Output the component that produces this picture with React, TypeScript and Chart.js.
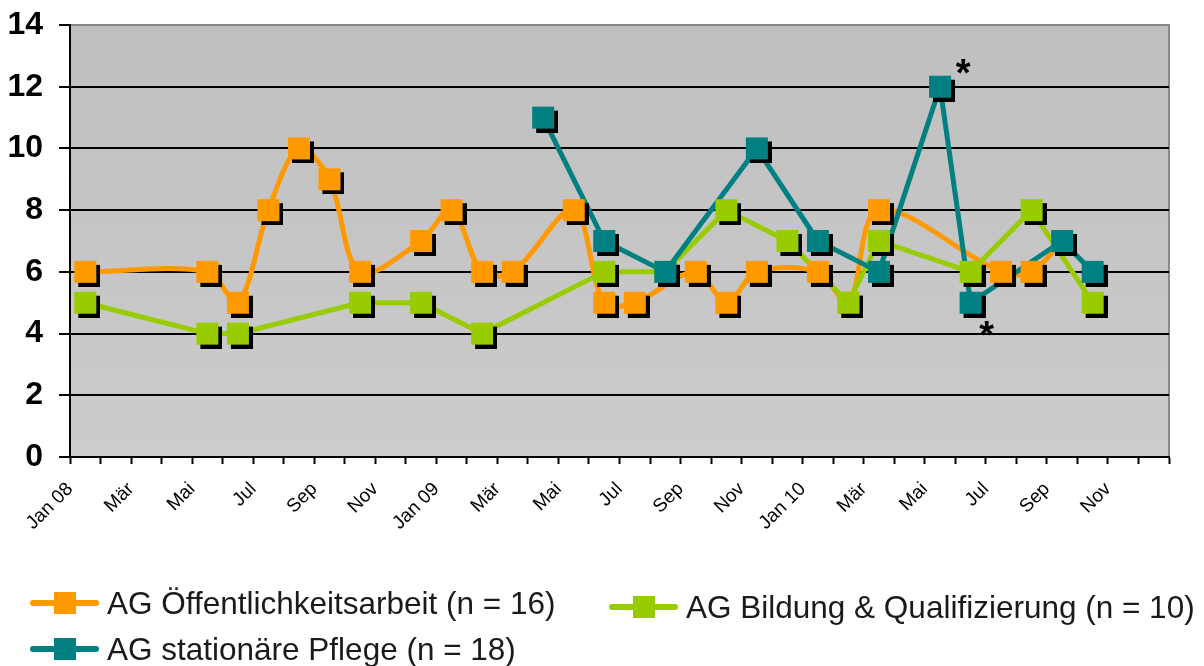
import React, { useEffect, useRef } from "react";
import { Chart, registerables } from "chart.js";

Chart.register(...registerables);

// Tick labels (every second month, starting Jan 2008)
const tickLabels = [
  "Jan 08", "Mär", "Mai", "Jul", "Sep", "Nov",
  "Jan 09", "Mär", "Mai", "Jul", "Sep", "Nov",
  "Jan 10", "Mär", "Mai", "Jul", "Sep", "Nov",
];

// Series: month index (0 = Jan 08) and value
const seriesNames = [
  "AG Öffentlichkeitsarbeit (n = 16)",
  "AG Bildung & Qualifizierung (n = 10)",
  "AG stationäre Pflege (n = 18)",
];

const oeffMonths = [0, 4, 5, 6, 7, 8, 9, 11, 12, 13, 14, 16, 17, 18, 20, 21, 22, 24, 25, 26, 30, 31, 32];
const oeffValues = [6, 6, 5, 8, 10, 9, 6, 7, 8, 6, 6, 8, 5, 5, 6, 5, 6, 6, 5, 8, 6, 6, 7];

const bildMonths = [0, 4, 5, 9, 11, 13, 17, 19, 21, 23, 25, 26, 29, 31, 33];
const bildValues = [5, 4, 4, 5, 5, 4, 6, 6, 8, 7, 5, 7, 6, 8, 5];

const pflegeMonths = [15, 17, 19, 22, 24, 26, 28, 29, 32, 33];
const pflegeValues = [11, 7, 6, 10, 7, 6, 12, 5, 7, 6];

// Asterisk annotations: attached to (month, value) of the "stationäre Pflege" series
const starMonths = [28, 29];
const starValues = [12, 5];

const colors = ["#FF9900", "#99CC00", "#008080"];
const FONT = "'Liberation Sans', Arial, Helvetica, sans-serif";

function makeMarker(color: string): HTMLCanvasElement {
  const size = 22;
  const off = 4;
  const c = document.createElement("canvas");
  c.width = size + 2 * off;
  c.height = size + 2 * off;
  const ctx = c.getContext("2d")!;
  ctx.fillStyle = "#000";
  ctx.fillRect(off * 2, off * 2, size, size);
  ctx.fillStyle = color;
  ctx.fillRect(off, off, size, size);
  return c;
}

function toPoints(months: number[], values: number[]) {
  return months.map((m, i) => ({ x: m + 0.5, y: values[i] }));
}

export default function App() {
  const ref = useRef<HTMLCanvasElement>(null);

  useEffect(() => {
    if (!ref.current) return;
    const markers = colors.map(makeMarker);
    const pts = [
      toPoints(oeffMonths, oeffValues),
      toPoints(bildMonths, bildValues),
      toPoints(pflegeMonths, pflegeValues),
    ];
    const tensions = [0.33, 0, 0];

    const lineSets = pts.map((d, i) => ({
      label: seriesNames[i] + " line",
      data: d,
      borderColor: colors[i],
      backgroundColor: colors[i],
      borderWidth: 5,
      tension: tensions[i],
      pointRadius: 0,
      borderJoinStyle: "round" as const,
      borderCapStyle: "round" as const,
      order: 20 - i,
    }));
    const pointSets = pts.map((d, i) => ({
      label: seriesNames[i],
      data: d,
      showLine: false,
      pointStyle: markers[i],
      pointRadius: 11,
      borderColor: colors[i],
      backgroundColor: colors[i],
      order: 5 - i,
    }));

    const bgPlugin = {
      id: "plotBg",
      beforeDraw(chart: any) {
        const { ctx, chartArea: a } = chart;
        ctx.save();
        const g = ctx.createLinearGradient(0, a.top, 0, a.bottom);
        g.addColorStop(0, "#BFBFBF");
        g.addColorStop(1, "#CCCCCC");
        ctx.fillStyle = g;
        ctx.fillRect(a.left, a.top, a.right - a.left, a.bottom - a.top);
        ctx.strokeStyle = "#8a8a8a";
        ctx.lineWidth = 2;
        ctx.beginPath();
        ctx.moveTo(a.left, a.top);
        ctx.lineTo(a.right, a.top);
        ctx.lineTo(a.right, a.bottom);
        ctx.stroke();
        ctx.restore();
      },
    };

    const starPlugin = {
      id: "stars",
      afterDatasetsDraw(chart: any) {
        const { ctx, scales } = chart;
        const offs = [
          [23, -1],
          [16, 45],
        ];
        ctx.save();
        ctx.font = `bold 38px ${FONT}`;
        ctx.fillStyle = "#000";
        ctx.textAlign = "center";
        ctx.textBaseline = "alphabetic";
        starMonths.forEach((m, i) => {
          const x = scales.x.getPixelForValue(m + 0.5) + offs[i][0];
          const y = scales.y.getPixelForValue(starValues[i]) + offs[i][1];
          ctx.fillText("*", x, y);
        });
        ctx.restore();
      },
    };

    const legendPlugin = {
      id: "customLegend",
      afterDraw(chart: any) {
        const { ctx } = chart;
        const items = [
          { i: 0, x: 33, y: 603 },
          { i: 1, x: 612, y: 607 },
          { i: 2, x: 33, y: 649 },
        ];
        ctx.save();
        items.forEach(({ i, x, y }) => {
          ctx.strokeStyle = colors[i];
          ctx.lineWidth = 6;
          ctx.lineCap = "round";
          ctx.beginPath();
          ctx.moveTo(x, y);
          ctx.lineTo(x + 63, y);
          ctx.stroke();
          ctx.fillStyle = colors[i];
          ctx.fillRect(x + 21, y - 11, 22, 22);
          ctx.fillStyle = "#1a1a1a";
          ctx.font = `31.5px ${FONT}`;
          ctx.textAlign = "left";
          ctx.textBaseline = "middle";
          ctx.fillText(seriesNames[i], x + 74, y + 2);
        });
        ctx.restore();
      },
    };

    const chart = new Chart(ref.current, {
      type: "line",
      data: { datasets: [...lineSets, ...pointSets] as any },
      plugins: [bgPlugin, starPlugin, legendPlugin],
      options: {
        animation: false,
        responsive: false,
        layout: { padding: { top: 25, right: 35, left: 0, bottom: 0 } },
        plugins: { legend: { display: false }, tooltip: { enabled: false } },
        scales: {
          x: {
            type: "linear",
            min: 0,
            max: 36,
            ticks: {
              stepSize: 1,
              maxTicksLimit: 100,
              autoSkip: false,
              minRotation: 45,
              maxRotation: 45,
              padding: 14,
              color: "#000",
              font: { family: FONT, size: 19 },
              callback: (v: any) => {
                const n = Number(v);
                return n % 2 === 0 && n / 2 < tickLabels.length ? tickLabels[n / 2] : "";
              },
            },
            grid: {
              drawOnChartArea: false,
              drawTicks: true,
              tickLength: 7,
              tickColor: "#000",
              tickWidth: 2,
            },
            border: { color: "#000", width: 2 },
            afterFit: (s: any) => {
              s.height = 209;
              s.paddingLeft = 0;
              s.paddingRight = 0;
            },
          },
          y: {
            min: 0,
            max: 14,
            ticks: {
              stepSize: 2,
              padding: 16,
              color: "#000",
              font: { family: FONT, size: 32, weight: "bold" },
            },
            grid: {
              color: (c: any) => (c.tick && c.tick.value === 14 ? "rgba(0,0,0,0)" : "#000"),
              lineWidth: 2,
              tickLength: 11,
              tickColor: "#000",
              tickWidth: 2,
            },
            border: { color: "#000", width: 2 },
            afterFit: (s: any) => {
              s.width = 70;
              s.paddingTop = 0;
              s.paddingBottom = 0;
            },
          },
        },
      } as any,
    });
    return () => chart.destroy();
  }, []);

  return (
    <div style={{ position: "fixed", left: 0, top: 0, width: 1204, height: 666, background: "#fff" }}>
      <canvas ref={ref} width={1204} height={666} style={{ display: "block" }} />
    </div>
  );
}
